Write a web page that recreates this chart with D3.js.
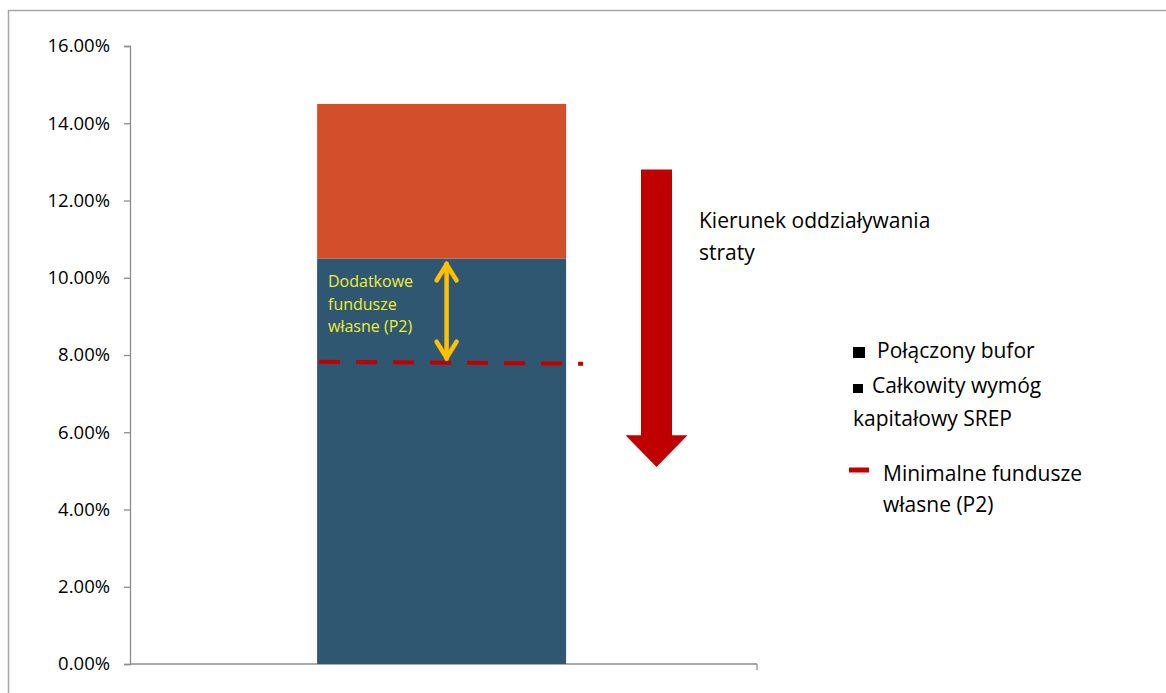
<!DOCTYPE html>
<html>
<head>
<meta charset="utf-8">
<script src="https://cdn.jsdelivr.net/npm/d3@7.9.0/dist/d3.min.js"></script>
<style>
  html, body { margin: 0; padding: 0; background: #fff; }
  svg { display: block; font-family: "Open Sans", sans-serif; }
</style>
</head>
<body>
<svg id="chart" width="1166" height="693"></svg>
<script>
// ---------- data ----------
const categories = ["SREP"];
const srepTotal = [10.5];      // Całkowity wymóg kapitałowy SREP (%)
const combinedBuffer = [4.0];  // Połączony bufor (%)
const minOwnFunds = [7.8];     // Minimalne fundusze własne (P2) (%)
const yTicks = [0, 2, 4, 6, 8, 10, 12, 14, 16];

const lossText = ["Kierunek oddziaływania", "straty"];
const p2Text = ["Dodatkowe", "fundusze", "własne (P2)"];
const legendRows = ["Połączony bufor", "Całkowity wymóg", "kapitałowy SREP"];
const legendLine = ["Minimalne fundusze", "własne (P2)"];

// ---------- layout ----------
const svg = d3.select("#chart");
const plotLeft = 130, plotRight = 757, plotTop = 46, plotBottom = 664;

// outer frame (cut off at right/bottom like the original)
svg.append("rect")
  .attr("x", 8.5).attr("y", 10.5)
  .attr("width", 1300).attr("height", 800)
  .attr("fill", "none")
  .attr("stroke", "#a6a6a6")
  .attr("stroke-width", 1.5);

const y = d3.scaleLinear().domain([0, 16]).range([plotBottom, plotTop]);
const x = d3.scaleBand().domain(categories).range([plotLeft, plotRight])
  .paddingInner(0.4315).paddingOuter(0.4315).align(0.495);

// y axis
const yAxis = svg.append("g")
  .attr("transform", `translate(${plotLeft},0)`)
  .call(d3.axisLeft(y).tickValues(yTicks).tickSize(6).tickPadding(14)
    .tickFormat(d => d.toFixed(2) + "%"));
yAxis.selectAll("path, line").attr("stroke", "#8c8c8c").attr("stroke-width", 1.3);
yAxis.selectAll("text").attr("font-size", 18.5).attr("fill", "#000")
  .attr("font-family", "'Open Sans', sans-serif");

// x axis
svg.append("line")
  .attr("x1", plotLeft).attr("x2", plotRight)
  .attr("y1", plotBottom).attr("y2", plotBottom)
  .attr("stroke", "#8c8c8c").attr("stroke-width", 1.3);
svg.append("line")
  .attr("x1", plotRight).attr("x2", plotRight)
  .attr("y1", plotBottom).attr("y2", plotBottom + 6)
  .attr("stroke", "#8c8c8c").attr("stroke-width", 1.3);

// stacked bar
const stacked = categories.map((c, i) => ({ c, base: srepTotal[i], buf: combinedBuffer[i], p2: minOwnFunds[i] }));

svg.selectAll("rect.base").data(stacked).join("rect")
  .attr("class", "base")
  .attr("x", d => x(d.c)).attr("width", x.bandwidth())
  .attr("y", d => y(d.base)).attr("height", d => y(0) - y(d.base))
  .attr("fill", "#305772");

svg.selectAll("rect.buf").data(stacked).join("rect")
  .attr("class", "buf")
  .attr("x", d => x(d.c)).attr("width", x.bandwidth())
  .attr("y", d => y(d.base + d.buf)).attr("height", d => y(d.base) - y(d.base + d.buf))
  .attr("fill", "#d34f2c");

// minimum own funds dashed line
svg.selectAll("line.p2").data(stacked).join("line")
  .attr("class", "p2")
  .attr("x1", d => x(d.c) + 2).attr("x2", d => x(d.c) + x.bandwidth() + 17)
  .attr("y1", d => y(d.p2) - 1).attr("y2", d => y(d.p2) + 1)
  .attr("stroke", "#c00000").attr("stroke-width", 4)
  .attr("stroke-dasharray", "21 16");

// yellow double arrow (additional own funds)
const ax = x(categories[0]) + x.bandwidth() * 0.52;
const ay1 = y(srepTotal[0]) + 4, ay2 = y(minOwnFunds[0]) - 3;
const yellow = "#ffc000";
const ag = svg.append("g").attr("stroke", yellow).attr("stroke-width", 4.5)
  .attr("stroke-linecap", "round").attr("stroke-linejoin", "round").attr("fill", "none");
ag.append("line").attr("x1", ax).attr("x2", ax).attr("y1", ay1 + 1).attr("y2", ay2 - 1);
ag.append("polyline").attr("points", `${ax - 10},${ay1 + 18} ${ax},${ay1 + 2} ${ax + 10},${ay1 + 18}`);
ag.append("polyline").attr("points", `${ax - 10},${ay2 - 18} ${ax},${ay2 - 2} ${ax + 10},${ay2 - 18}`);

svg.append("g").selectAll("text").data(p2Text).join("text")
  .attr("x", 328).attr("y", (d, i) => 287 + i * 22.5)
  .attr("font-size", 16).attr("fill", "#eeee30")
  .text(d => d);

// big red arrow (direction of loss)
const rx = 656.5, shaftW = 31, headW = 62;
const rTop = y(12.8), rHead = y(5.92), rTip = y(5.1);
svg.append("path")
  .attr("d", `M${rx - shaftW / 2},${rTop} H${rx + shaftW / 2} V${rHead} H${rx + headW / 2}
              L${rx},${rTip} L${rx - headW / 2},${rHead} H${rx - shaftW / 2} Z`)
  .attr("fill", "#c00000");

svg.append("g").selectAll("text").data(lossText).join("text")
  .attr("x", 699).attr("y", (d, i) => 228 + i * 32)
  .attr("font-size", 21).attr("fill", "#000")
  .text(d => d);

// legend
const lg = svg.append("g");
lg.append("rect").attr("x", 853).attr("y", 347).attr("width", 12).attr("height", 11).attr("fill", "#000");
lg.append("text").attr("x", 877).attr("y", 358).attr("font-size", 21).text(legendRows[0]);
lg.append("rect").attr("x", 853).attr("y", 384).attr("width", 10).attr("height", 9).attr("fill", "#000");
lg.append("text").attr("x", 872).attr("y", 393).attr("font-size", 21).text(legendRows[1]);
lg.append("text").attr("x", 853).attr("y", 426).attr("font-size", 21).text(legendRows[2]);

lg.append("line").attr("x1", 849).attr("x2", 869).attr("y1", 470).attr("y2", 470)
  .attr("stroke", "#c00000").attr("stroke-width", 5);
lg.selectAll("text.ll").data(legendLine).join("text")
  .attr("class", "ll")
  .attr("x", 883).attr("y", (d, i) => 481 + i * 31)
  .attr("font-size", 21)
  .text(d => d);
</script>
</body>
</html>
